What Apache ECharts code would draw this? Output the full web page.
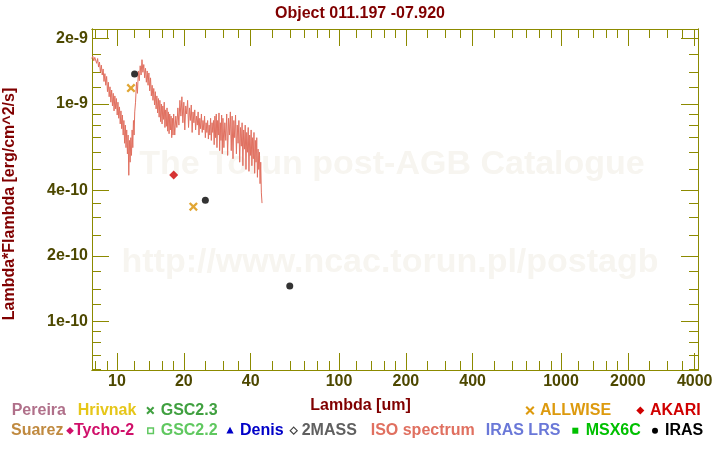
<!DOCTYPE html>
<html><head><meta charset="utf-8">
<script src="https://cdn.jsdelivr.net/npm/echarts@6/dist/echarts.min.js"></script>
<style>html,body{margin:0;padding:0;background:#fff}#c{width:720px;height:450px}</style>
</head><body><div id="c"></div>
<script>
// ---------------- data ----------------
const chartTitle = 'Object 011.197 -07.920';
const xAxisName = 'Lambda [um]';
const yAxisName = 'Lambda*Flambda [erg/cm^2/s]';
const xMajorTicks = [10, 20, 40, 100, 200, 400, 1000, 2000, 4000];
const xMinorTicks = [8, 9, 12, 14, 16, 18, 25, 30, 35, 50, 60, 70, 80, 90, 120, 140, 160, 180, 250, 300, 350, 500, 600, 700, 800, 900, 1200, 1400, 1600, 1800, 2500, 3000, 3500];
const yMajorTicks = [1e-10, 2e-10, 4e-10, 1e-9, 2e-9];
const yMinorTicks = [6e-11, 7e-11, 8e-11, 9e-11, 1.2e-10, 1.4e-10, 1.7e-10, 2.5e-10, 3e-10, 3.5e-10, 5e-10, 6e-10, 7e-10, 8e-10, 9e-10, 1.2e-9, 1.4e-9, 1.7e-9];

// ISO spectrum: [wavelength (um), flux (1e-10 erg/cm^2/s)]
const isoSpectrum = [
 [7.70,16.2],[7.78,16.6],[7.86,15.8],[7.94,16.4],[8.02,16.1],[8.10,15.4],[8.18,16.2],[8.26,14.8],[8.34,15.6],[8.42,14.0],
 [8.50,15.1],[8.58,13.6],[8.66,14.5],[8.74,12.7],[8.82,13.8],[8.90,12.2],[8.98,13.4],[9.06,11.4],[9.14,12.6],[9.22,10.8],
 [9.30,12.0],[9.38,10.2],[9.46,11.6],[9.54,9.8],[9.62,11.2],[9.70,9.3],[9.78,10.9],[9.86,9.5],[9.94,10.6],[10.02,8.9],
 [10.10,10.2],[10.18,8.6],[10.26,9.7],[10.34,8.1],[10.42,9.3],[10.50,7.7],[10.58,8.9],[10.66,7.2],[10.74,8.4],[10.82,6.6],
 [10.90,8.0],[10.98,6.3],[11.06,7.6],[11.14,5.9],[11.22,7.2],[11.30,4.7],[11.38,6.8],[11.46,5.4],[11.54,7.0],[11.62,5.8],
 [11.70,7.6],[11.78,6.3],[11.86,8.4],[11.94,7.2],[12.02,9.2],
 [12.12,10.2],[12.24,12.6],[12.36,11.2],[12.48,14.2],[12.60,12.8],[12.72,15.0],[12.84,13.6],[12.96,16.0],[13.08,14.0],[13.20,15.2],
 [13.32,13.2],[13.44,14.6],[13.56,12.6],[13.68,14.2],[13.80,12.2],[13.92,13.9],[14.04,11.5],[14.16,13.2],[14.28,10.9],[14.40,12.2],
 [14.52,10.4],[14.64,11.8],[14.76,9.9],[14.88,11.4],[15.00,9.5],[15.12,10.9],[15.24,9.1],[15.36,10.6],[15.48,8.7],[15.60,10.4],
 [15.72,8.3],[15.84,10.0],[15.96,8.1],[16.08,9.8],[16.20,8.5],[16.32,10.2],[16.44,7.8],[16.56,9.4],[16.68,7.9],[16.80,9.6],
 [16.92,7.5],[17.04,9.2],[17.16,7.3],[17.28,9.0],[17.40,7.6],[17.52,8.8],[17.64,7.0],[17.76,8.6],[17.88,7.2],[18.00,9.0],
 [18.2,7.2],[18.4,8.8],[18.6,7.8],[18.8,9.6],[19.0,8.0],[19.2,10.4],[19.4,8.8],[19.6,10.8],[19.8,8.2],[20.0,10.2],
 [20.2,7.6],[20.4,9.8],[20.6,9.0],[20.8,10.4],[21.0,7.8],[21.2,9.6],[21.4,8.4],[21.6,9.9],[21.8,7.4],[22.0,9.2],
 [22.2,8.2],[22.4,9.4],[22.6,7.6],[22.8,8.8],[23.0,8.0],[23.2,9.2],[23.4,7.2],[23.6,8.6],[23.8,7.7],[24.0,9.0],
 [24.2,7.4],[24.4,8.4],[24.6,7.6],[24.8,8.8],[25.0,7.0],[25.2,8.2],[25.4,7.4],[25.6,8.4],[25.8,6.9],[26.0,8.0],
 [26.2,7.2],[26.4,8.6],[26.6,6.8],[26.8,8.2],[27.0,7.4],[27.2,8.4],[27.4,6.5],[27.6,8.8],[27.8,7.0],[28.0,9.0],
 [28.2,6.3],[28.4,8.4],[28.6,7.2],[28.8,9.1],[29.0,6.1],[29.2,8.2],[29.4,6.8],[29.6,8.9],[29.8,5.9],[30.0,8.6],
 [30.3,6.3],[30.6,8.2],[30.9,6.8],[31.2,9.0],[31.5,5.8],[31.8,8.6],[32.1,7.2],[32.4,9.2],[32.7,6.1],[33.0,8.8],
 [33.3,5.6],[33.6,8.4],[33.9,7.0],[34.2,8.9],[34.5,5.9],[34.8,8.0],[35.1,6.6],[35.4,8.4],[35.7,5.4],[36.0,7.8],
 [36.3,6.4],[36.6,8.2],[36.9,5.2],[37.2,7.6],[37.5,6.2],[37.8,8.0],[38.1,5.0],[38.4,7.4],[38.7,6.0],[39.0,7.8],
 [39.3,4.9],[39.6,7.2],[39.9,5.8],[40.2,7.6],[40.5,5.2],[40.8,7.0],[41.1,5.6],[41.4,7.4],[41.7,4.8],[42.0,6.8],
 [42.3,5.4],[42.6,7.0],[42.9,4.6],[43.2,6.2],[43.5,5.0],[43.8,6.0],[44.1,4.3],[44.4,5.4],[44.7,3.9],[45.0,3.5]
];
const irasWavelength = [12, 25, 60];
const irasFlux = [1.375e-9, 3.61e-10, 1.455e-10];
const allwiseWavelength = [11.56, 22.08];
const allwiseFlux = [1.185e-9, 3.37e-10];
const akariWavelength = [18];
const akariFlux = [4.71e-10];

// ---------------- style ----------------
const FONT = '"Liberation Sans", Arial, sans-serif';
const AX = '#8c8a00';
const LBL = '#4d4800';
const MAROON = '#800000';
const X_MIN = 7.716, X_MAX = 4140;
const Y_MIN = 5.97e-11, Y_MAX = 2.215e-9;
const MAJ = 17, MIN = 9;

function xAx(pos, ticks, len, labels) {
  return {
    type: 'log', logBase: 10, min: X_MIN, max: X_MAX, position: pos,
    axisLine: { show: true, onZero: false, lineStyle: { color: AX, width: 1 } },
    axisTick: { show: true, inside: true, length: len, customValues: ticks, lineStyle: { color: AX, width: 1 } },
    axisLabel: labels ? {
      show: true, customValues: xMajorTicks, margin: 4, color: LBL,
      fontFamily: FONT, fontWeight: 'bold', fontSize: 16,
      formatter: v => String(Math.round(v))
    } : { show: false },
    splitLine: { show: false }, minorTick: { show: false }
  };
}
function yAx(pos, ticks, len, labels) {
  return {
    type: 'log', logBase: 10, min: Y_MIN, max: Y_MAX, position: pos,
    axisLine: { show: true, onZero: false, lineStyle: { color: AX, width: 1 } },
    axisTick: { show: true, inside: true, length: len, customValues: ticks, lineStyle: { color: AX, width: 1 } },
    axisLabel: labels ? {
      show: true, customValues: yMajorTicks, margin: 4, color: LBL,
      fontFamily: FONT, fontWeight: 'bold', fontSize: 16,
      formatter: v => Number(v).toExponential().replace('+', '')
    } : { show: false },
    splitLine: { show: false }, minorTick: { show: false }
  };
}

const isoData = isoSpectrum.map(p => [p[0], p[1] * 1e-10]);
const pair = (a, b) => a.map((w, i) => [w, b[i]]);

function txt(text, x, y, color) {
  return { type: 'text', z: 100,
    style: { text, x, y, fill: color, font: 'bold 16px ' + FONT, align: 'left', verticalAlign: 'middle' } };
}
function cross(cx, cy, r, color) {
  return { type: 'group', z: 100, children: [
    { type: 'line', shape: { x1: cx - r, y1: cy - r, x2: cx + r, y2: cy + r }, style: { stroke: color, lineWidth: 2 } },
    { type: 'line', shape: { x1: cx - r, y1: cy + r, x2: cx + r, y2: cy - r }, style: { stroke: color, lineWidth: 2 } }
  ]};
}
function diamond(cx, cy, r, fill, stroke) {
  return { type: 'polygon', z: 100, shape: { points: [[cx, cy - r], [cx + r, cy], [cx, cy + r], [cx - r, cy]] },
    style: stroke ? { fill: '#fff', stroke, lineWidth: 1.2 } : { fill } };
}

const R1 = 410.5, R2 = 430.7;
const WM = '#f7f5f0';
const graphics = [
  { type: 'text', z: -10, silent: true, style: { text: 'The Torun post-AGB Catalogue', x: 392, y: 165, fill: WM, font: 'bold 34px ' + FONT, align: 'center', verticalAlign: 'middle' } },
  { type: 'text', z: -10, silent: true, style: { text: 'http://www.ncac.torun.pl/postagb', x: 390, y: 263, fill: WM, font: 'bold 34px ' + FONT, align: 'center', verticalAlign: 'middle' } },
  { type: 'text', z: 100, style: { text: chartTitle, x: 360, y: 13.5, fill: MAROON, font: 'bold 16px ' + FONT, align: 'center', verticalAlign: 'middle' } },
  { type: 'text', z: 100, style: { text: xAxisName, x: 360.5, y: 405.5, fill: MAROON, font: 'bold 16px ' + FONT, align: 'center', verticalAlign: 'middle' } },
  { type: 'text', z: 100, x: 10, y: 204, rotation: Math.PI / 2, style: { text: yAxisName, x: 0, y: 0, fill: MAROON, font: 'bold 16px ' + FONT, align: 'center', verticalAlign: 'middle' } },
  txt('Pereira', 11.7, R1, '#b0708a'),
  txt('Hrivnak', 77.7, R1, '#e6c619'),
  cross(150.3, R1, 3.3, '#40a040'),
  txt('GSC2.3', 160.7, R1, '#40a040'),
  cross(530, R1, 3.8, '#dd9a0e'),
  txt('ALLWISE', 540, R1, '#dd9a0e'),
  diamond(640.3, R1, 4, '#d00000'),
  txt('AKARI', 650, R1, '#d00000'),
  txt('Suarez', 11, R2, '#c08a40'),
  diamond(70, R2, 3.8, '#d0106a'),
  txt('Tycho-2', 74, R2, '#d0106a'),
  { type: 'rect', z: 100, shape: { x: 147.8, y: R2 - 2.8, width: 5.6, height: 5.6 }, style: { fill: '#fff', stroke: '#60c860', lineWidth: 1.5 } },
  txt('GSC2.2', 160.7, R2, '#60c860'),
  { type: 'polygon', z: 100, shape: { points: [[230, R2 - 4], [233.6, R2 + 2.8], [226.4, R2 + 2.8]] }, style: { fill: '#0000c8' } },
  txt('Denis', 240, R2, '#0000c8'),
  diamond(293.7, R2, 3.5, null, '#444'),
  txt('2MASS', 301.7, R2, '#606060'),
  txt('ISO spectrum', 370.7, R2, '#e07060'),
  txt('IRAS LRS', 485.7, R2, '#6a78d8'),
  { type: 'rect', z: 100, shape: { x: 572.3, y: R2 - 3, width: 6, height: 6 }, style: { fill: '#00c000' } },
  txt('MSX6C', 585.7, R2, '#00c000'),
  { type: 'circle', z: 100, shape: { cx: 655, cy: R2, r: 3 }, style: { fill: '#000' } },
  txt('IRAS', 665, R2, '#000')
];

const chart = echarts.init(document.getElementById('c'), null, { renderer: 'canvas' });
chart.setOption({
  animation: false,
  backgroundColor: '#fff',
  grid: { left: 92, right: 22, top: 29, bottom: 80, containLabel: false },
  xAxis: [xAx('bottom', xMajorTicks, MAJ, true), xAx('bottom', xMinorTicks, MIN, false), xAx('top', xMajorTicks, MAJ, false), xAx('top', xMinorTicks, MIN, false)],
  yAxis: [yAx('left', yMajorTicks, MAJ, true), yAx('left', yMinorTicks, MIN, false), yAx('right', yMajorTicks, MAJ, false), yAx('right', yMinorTicks, MIN, false)],
  graphic: graphics,
  series: [
    { name: 'ISO spectrum', type: 'line', xAxisIndex: 0, yAxisIndex: 0, data: isoData, showSymbol: false, symbol: 'none',
      lineStyle: { color: '#e07060', width: 1 }, clip: true, z: 2 },
    { name: 'ALLWISE', type: 'scatter', xAxisIndex: 0, yAxisIndex: 0, data: pair(allwiseWavelength, allwiseFlux),
      symbol: 'path://M0,1.8L1.8,0L5,3.2L8.2,0L10,1.8L6.8,5L10,8.2L8.2,10L5,6.8L1.8,10L0,8.2L3.2,5Z', symbolSize: 9,
      itemStyle: { color: '#d99000' }, z: 3 },
    { name: 'AKARI', type: 'scatter', xAxisIndex: 0, yAxisIndex: 0, data: pair(akariWavelength, akariFlux),
      symbol: 'diamond', symbolSize: [9, 9], itemStyle: { color: '#cc0000' }, z: 3 },
    { name: 'IRAS', type: 'scatter', xAxisIndex: 0, yAxisIndex: 0, data: pair(irasWavelength, irasFlux),
      symbol: 'circle', symbolSize: 7, itemStyle: { color: '#000' }, z: 4 }
  ]
});
</script>
</body></html>
